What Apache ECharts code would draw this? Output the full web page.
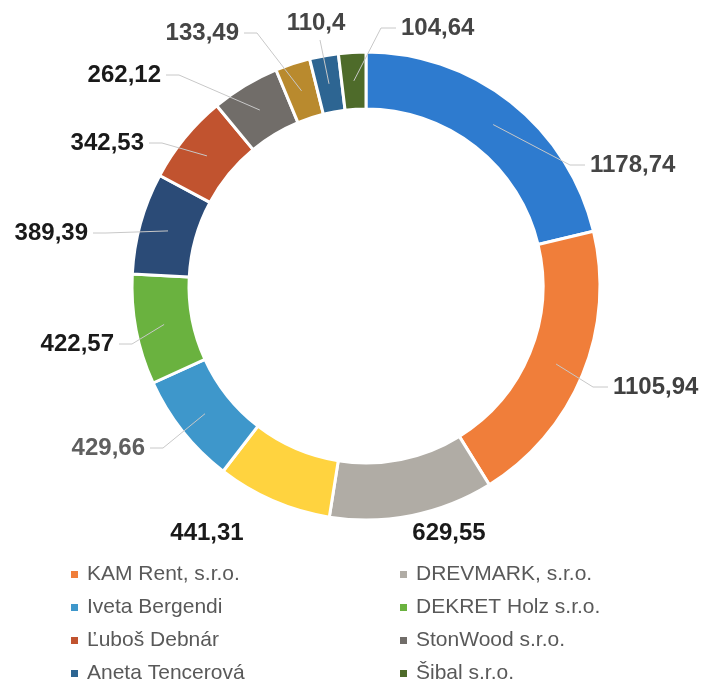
<!DOCTYPE html>
<html>
<head>
<meta charset="utf-8">
<script src="https://cdn.jsdelivr.net/npm/echarts@6/dist/echarts.min.js"></script>
<style>
html,body{margin:0;padding:0;background:#fff;}
#c{width:705px;height:684px;}
</style>
</head>
<body>
<div id="c"></div>
<script>
// ---- Data ----
const names = ['Položka 1', 'KAM Rent, s.r.o.', 'DREVMARK, s.r.o.', 'Položka 4', 'Iveta Bergendi', 'DEKRET Holz s.r.o.', 'Položka 7', 'Ľuboš Debnár', 'StonWood s.r.o.', 'Položka 10', 'Aneta Tencerová', 'Šibal s.r.o.'];
const values = [1178.74, 1105.94, 629.55, 441.31, 429.66, 422.57, 389.39, 342.53, 262.12, 133.49, 110.4, 104.64];
const legendItems = ['KAM Rent, s.r.o.', 'DREVMARK, s.r.o.', 'Iveta Bergendi', 'DEKRET Holz s.r.o.', 'Ľuboš Debnár', 'StonWood s.r.o.', 'Aneta Tencerová', 'Šibal s.r.o.'];

// ---- Styles / layout ----
const colors = ['#2E7BCF','#F07E3A','#B0ACA5','#FFD33F','#3E97CB','#6AB23F','#2B4B77','#C1532F','#716D69','#B98A2E','#2D6592','#4E6B2A'];
const labelColors = ['#454545','#404040','#1a1a1a','#1a1a1a','#5f5f5f','#1a1a1a','#1a1a1a','#1a1a1a','#1a1a1a','#454545','#454545','#454545'];
// label anchor offset from pie centre (Excel-style label placement), and alignment
const labelOffX = [224, 247, 83, -159, -221, -252, -278, -222, -205, -127, -50, 35];
const labelOffY = [-121, 101, 247, 247, 162, 58, -53, -143, -211, -253, -251, -258];
const labelAlign = ['left','left','center','center','right','right','right','right','right','right','center','left'];
const labelVAlign = ['middle','middle','middle','middle','middle','middle','middle','middle','middle','middle','bottom','middle'];
const showLine = [true, true, false, false, true, true, true, true, true, true, true, true];

const CX = 366, CY = 286, R_IN = 177, R_OUT = 234;
const R_MID = (R_IN + R_OUT) / 2;
const total = values.reduce((a, b) => a + b, 0);

const chart = echarts.init(document.getElementById('c'));

const ringData = names.map((n, i) => ({ name: n, value: values[i] }));
const labelData = names.map((n, i) => ({
  name: n,
  value: values[i],
  label: { color: labelColors[i] },
  labelLine: { show: showLine[i] }
}));

function midAngle(i) {
  let cum = 0;
  for (let k = 0; k < i; k++) cum += values[k];
  return 2 * Math.PI * (cum + values[i] / 2) / total;
}

chart.setOption({
  animation: false,
  color: colors,
  legend: {
    data: legendItems.map(n => ({ name: n, itemStyle: { color: colors[names.indexOf(n)] } })),
    orient: 'horizontal',
    left: 69,
    top: 564,
    width: 650,
    padding: 0,
    icon: 'rect',
    itemWidth: 9,
    itemHeight: 9,
    itemGap: 12,
    textStyle: {
      fontFamily: 'Liberation Sans, Arial, sans-serif',
      fontSize: 21,
      color: '#595959',
      lineHeight: 18,
      width: 299,
      overflow: 'none',
      padding: [0, 0, 0, 3]
    }
  },
  series: [{
    type: 'pie',
    z: 2,
    center: [CX, CY],
    radius: [R_IN, R_OUT],
    startAngle: 90,
    clockwise: true,
    silent: true,
    itemStyle: { borderColor: '#ffffff', borderWidth: 3 },
    label: { show: false },
    labelLine: { show: false },
    data: ringData
  }, {
    type: 'pie',
    z: 3,
    center: [CX, CY],
    radius: [R_IN, R_OUT],
    startAngle: 90,
    clockwise: true,
    silent: true,
    legendHoverLink: false,
    avoidLabelOverlap: false,
    itemStyle: { color: 'rgba(0,0,0,0)', borderWidth: 0 },
    label: {
      show: true,
      position: 'outside',
      overflow: 'none',
      fontFamily: 'Liberation Sans, Arial, sans-serif',
      fontWeight: 'bold',
      fontSize: 24,
      formatter: p => String(p.value).replace('.', ',')
    },
    labelLine: { show: true, showAbove: true, length: 20, length2: 10, lineStyle: { color: '#c8c8c8', width: 1 } },
    labelLayout: function (params) {
      const i = params.dataIndex;
      const ax = CX + labelOffX[i], ay = CY + labelOffY[i];
      const a = midAngle(i);
      const start = [CX + R_MID * Math.sin(a), CY - R_MID * Math.cos(a)];
      let end, elbow;
      if (labelAlign[i] === 'left') {
        end = [ax - 5, ay];
        elbow = [ax - 20, ay];
      } else if (labelAlign[i] === 'right') {
        end = [ax + 5, ay];
        elbow = [ax + 18, ay];
      } else {
        end = [ax + 4, ay + 5];
        elbow = end;
      }
      return {
        x: ax,
        y: ay,
        align: labelAlign[i],
        verticalAlign: labelVAlign[i],
        labelLinePoints: [start, elbow, end]
      };
    },
    data: labelData
  }]
});
</script>
</body>
</html>
